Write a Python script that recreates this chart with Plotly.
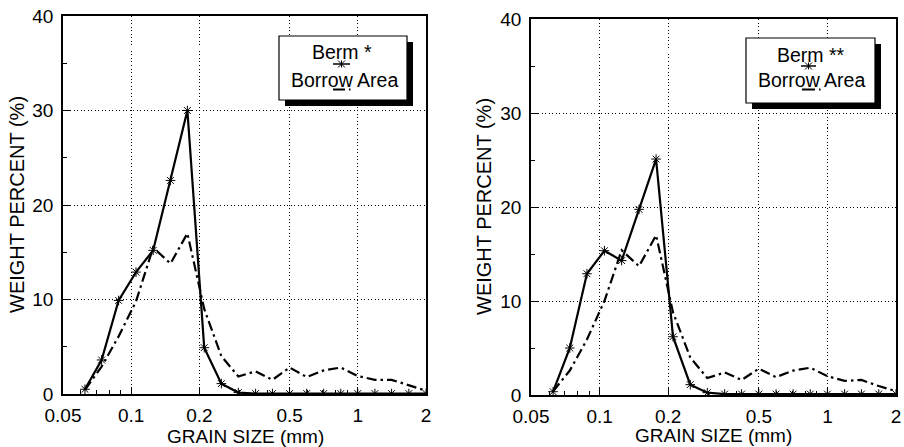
import plotly.graph_objects as go

# ---------------- data ----------------
grain_size = [0.0625, 0.074, 0.088, 0.105, 0.125, 0.149, 0.177, 0.210, 0.250, 0.297,
              0.354, 0.420, 0.500, 0.595, 0.707, 0.841, 1.000, 1.190, 1.410, 1.680, 2.000]

berm_1 = [0.5, 3.6, 9.9, 12.9, 15.2, 22.6, 30.0, 4.9, 1.1, 0.15,
          0.05, 0.05, 0.05, 0.05, 0.05, 0.05, 0.05, 0.05, 0.05, 0.05, 0.05]
borrow_1 = [0.45, 2.9, 6.1, 9.8, 15.5, 13.8, 17.0, 9.0, 4.0, 1.85,
            2.4, 1.5, 2.8, 1.8, 2.5, 2.8, 1.9, 1.5, 1.5, 0.9, 0.35]

berm_2 = [0.35, 5.0, 12.9, 15.35, 14.3, 19.75, 25.1, 6.2, 1.1, 0.25,
          0.1, 0.1, 0.1, 0.1, 0.1, 0.1, 0.1, 0.1, 0.1, 0.1, 0.1]
borrow_2 = [0.4, 2.6, 5.9, 10.0, 15.4, 13.7, 17.0, 8.8, 4.0, 1.8,
            2.4, 1.6, 2.8, 1.9, 2.6, 2.9, 2.0, 1.5, 1.6, 0.95, 0.4]

x_tickvals = [0.05, 0.1, 0.2, 0.5, 1, 2]
x_ticktext = ["0.05", "0.1", "0.2", "0.5", "1", "2"]
x_minor = [0.06, 0.07, 0.08, 0.09, 0.3, 0.4, 0.6, 0.7, 0.8, 0.9]
y_tickvals = [0, 10, 20, 30, 40]

legend_labels = [("Berm *", "Borrow Area"), ("Berm **", "Borrow Area")]
x_title = "GRAIN SIZE (mm)"
y_title = "WEIGHT PERCENT (%)"

# ---------------- layout helpers ----------------
W, H = 904, 447
FONT = "Liberation Sans, Arial, Helvetica, sans-serif"


def px(x):
    return x / W


def py(y):
    return 1 - y / H


panels = [
    dict(x0=63, x1=426, y0=16, y1=394, berm=berm_1, borrow=borrow_1,
         box=(279, 36, 407, 100), t1=(342, 52), t2=(344, 80),
         s1=(333, 350, 64), s2=(333, 345, 89.5, 349),
         xt=(245, 436), yt=(17, 205)),
    dict(x0=531, x1=896, y0=19, y1=395, berm=berm_2, borrow=borrow_2,
         box=(746, 38, 875, 103), t1=(811, 55), t2=(811, 80),
         s1=(801, 816, 66), s2=(802, 815, 89.5, 819),
         xt=(713, 435), yt=(484, 207)),
]

fig = go.Figure()
shapes = []
annotations = []

for i, p in enumerate(panels):
    n = "" if i == 0 else str(i + 1)
    xa = "x" + n
    ya = "y" + n
    fig.add_trace(go.Scatter(
        x=grain_size, y=p["borrow"], mode="lines", xaxis=xa, yaxis=ya,
        line=dict(color="black", width=2.2, dash="10px,4px,2.5px,4px"),
        showlegend=False, hoverinfo="skip"))
    fig.add_trace(go.Scatter(
        x=grain_size, y=p["berm"], mode="lines+markers", xaxis=xa, yaxis=ya,
        line=dict(color="black", width=2.2),
        marker=dict(symbol="asterisk-open", size=8, color="black",
                    line=dict(color="black", width=1)),
        showlegend=False, hoverinfo="skip"))

    axis_common = dict(
        showline=True, linecolor="black", linewidth=1.6, mirror=True,
        showgrid=True, gridcolor="black", gridwidth=1, griddash="1px,2.5px",
        ticks="inside", tickcolor="black", ticklen=7, tickwidth=1,
        zeroline=False, automargin=False,
        tickfont=dict(family=FONT, size=19, color="black"),
    )
    fig.layout["xaxis" + n] = dict(
        axis_common, type="log", domain=[px(p["x0"]), px(p["x1"])],
        range=[-1.30103, 0.30103], tickvals=x_tickvals, ticktext=x_ticktext,
        anchor=ya, ticklabelstandoff=3,
        minor=dict(ticks="inside", ticklen=4, tickcolor="black",
                   tickvals=x_minor, showgrid=False),
    )
    fig.layout["yaxis" + n] = dict(
        axis_common, domain=[py(p["y1"]), py(p["y0"])],
        range=[0, 40], tickvals=y_tickvals, anchor=xa, ticklabelstandoff=4,
        minor=dict(ticks="inside", ticklen=4, tickcolor="black", dtick=5,
                   showgrid=False),
    )

    # legend box with drop shadow
    bx0, by0, bx1, by1 = p["box"]
    shapes.append(dict(type="rect", xref="paper", yref="paper",
                       x0=px(bx0 + 6), x1=px(bx1 + 6), y0=py(by1 + 6), y1=py(by0 + 6),
                       fillcolor="black", line=dict(width=0)))
    shapes.append(dict(type="rect", xref="paper", yref="paper",
                       x0=px(bx0), x1=px(bx1), y0=py(by1), y1=py(by0),
                       fillcolor="white", line=dict(color="black", width=1.2)))
    # legend sample: solid line with asterisk
    sx0, sx1, sy = p["s1"]
    shapes.append(dict(type="line", xref="paper", yref="paper",
                       x0=px(sx0), x1=px(sx1), y0=py(sy), y1=py(sy),
                       line=dict(color="black", width=1.5)))
    cx = (sx0 + sx1) / 2
    r = 3.5
    path = (f"M {px(cx - r)} {py(sy - r)} L {px(cx + r)} {py(sy + r)} "
            f"M {px(cx - r)} {py(sy + r)} L {px(cx + r)} {py(sy - r)} "
            f"M {px(cx)} {py(sy - r)} L {px(cx)} {py(sy + r)}")
    shapes.append(dict(type="path", xref="paper", yref="paper", path=path,
                       line=dict(color="black", width=1)))
    # legend sample: dash-dot
    dx0, dx1, dy, ddot = p["s2"]
    shapes.append(dict(type="line", xref="paper", yref="paper",
                       x0=px(dx0), x1=px(dx1), y0=py(dy), y1=py(dy),
                       line=dict(color="black", width=2)))
    shapes.append(dict(type="line", xref="paper", yref="paper",
                       x0=px(ddot), x1=px(ddot + 1.5), y0=py(dy), y1=py(dy),
                       line=dict(color="black", width=2)))

    l1, l2 = legend_labels[i]
    annotations.append(dict(text=l1, xref="paper", yref="paper",
                            x=px(p["t1"][0]), y=py(p["t1"][1]), showarrow=False,
                            xanchor="center", yanchor="middle",
                            font=dict(family=FONT, size=19.5, color="black")))
    annotations.append(dict(text=l2, xref="paper", yref="paper",
                            x=px(p["t2"][0]), y=py(p["t2"][1]), showarrow=False,
                            xanchor="center", yanchor="middle",
                            font=dict(family=FONT, size=19.5, color="black")))
    # axis titles
    annotations.append(dict(text=x_title, xref="paper", yref="paper",
                            x=px(p["xt"][0]), y=py(p["xt"][1]), showarrow=False,
                            xanchor="center", yanchor="middle",
                            font=dict(family=FONT, size=19, color="black")))
    annotations.append(dict(text=y_title, xref="paper", yref="paper",
                            x=px(p["yt"][0]), y=py(p["yt"][1]), showarrow=False,
                            xanchor="center", yanchor="middle", textangle=-90,
                            font=dict(family=FONT, size=20, color="black")))

fig.update_layout(
    width=W, height=H, margin=dict(l=0, r=0, t=0, b=0),
    paper_bgcolor="white", plot_bgcolor="white",
    shapes=shapes, annotations=annotations, showlegend=False,
    font=dict(family=FONT, color="black"),
)

fig.write_html("out.html", config={"displayModeBar": False})
